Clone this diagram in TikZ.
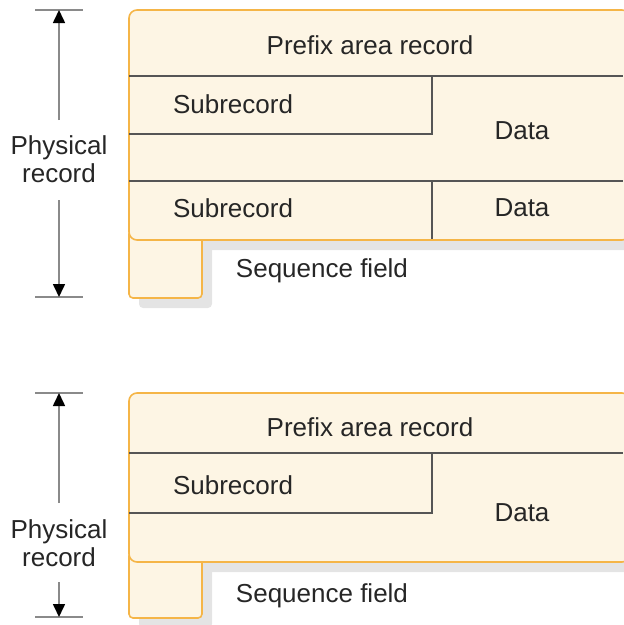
\documentclass[tikz,border=0pt]{standalone}
\usepackage{fontspec}
\setmainfont{Liberation Sans}
\usetikzlibrary{arrows.meta}
\definecolor{boxfill}{HTML}{FDF5E4}
\definecolor{boxedge}{HTML}{F5B547}
\definecolor{inner}{HTML}{555555}
\definecolor{shadowgray}{HTML}{E4E4E4}
\definecolor{dimline}{HTML}{8A8A8A}
\tikzset{
  recbox/.style={fill=boxfill, draw=boxedge, line width=1.6pt, rounded corners=8pt},
  seqbox/.style={fill=boxfill, draw=boxedge, line width=1.6pt, rounded corners=4pt},
  shadowbox/.style={fill=shadowgray, draw=none, rounded corners=8pt},
  seqshadow/.style={fill=shadowgray, draw=none, rounded corners=4pt},
  divider/.style={draw=inner, line width=1.5pt},
  lbl/.style={font=\fontsize{26}{28.5}\selectfont, text=black!85, inner sep=0pt},
  dimarrow/.style={draw=dimline, line width=1.6pt, -{Triangle[length=13pt,width=12pt,black]}},
  dimtick/.style={draw=dimline, line width=1.6pt},
}
\begin{document}
\begin{tikzpicture}[x=1pt,y=-1pt]
\useasboundingbox (0,0) rectangle (624,625);

% ===== Top diagram =====
\path[shadowbox] (139,20) rectangle (640,250);
\path[seqshadow] (139,240) rectangle (212,308);
\path[seqbox] (129,230) rectangle (202,298);
\path[recbox] (129,10) rectangle (630,240);
\draw[divider] (129,76) -- (623,76);
\draw[divider] (129,134) -- (432,134) -- (432,76);
\draw[divider] (129,181) -- (623,181);
\draw[divider] (432,181) -- (432,239);
\node[lbl] (pa1) at (370,45) {Prefix area record};
\node[lbl] (sr1) at (233,104) {Subrecord};
\node[lbl] (da1) at (522,131) {Data};
\node[lbl] (sr2) at (233,208) {Subrecord};
\node[lbl] (da2) at (522,208) {Data};
\node[lbl] (sf1) at (322,271) {Sequence field};
\coordinate (t1a) at (35,10);  \coordinate (t1b) at (83,10);
\coordinate (b1a) at (35,297); \coordinate (b1b) at (83,297);
\coordinate (top1) at (59,10); \coordinate (bot1) at (59,297);
\coordinate (s1a) at (59,120); \coordinate (s1b) at (59,200);
\node[lbl, align=center] (pr1) at (59,159) {Physical\\record};
\draw[dimtick] (t1a) -- (t1b);
\draw[dimtick] (b1a) -- (b1b);
\draw[dimarrow] (s1a) -- (top1);
\draw[dimarrow] (s1b) -- (bot1);

% ===== Bottom diagram =====
\path[shadowbox] (139,403) rectangle (640,572);
\path[seqshadow] (139,562) rectangle (212,628);
\path[seqbox] (129,552) rectangle (202,618);
\path[recbox] (129,393) rectangle (630,562);
\draw[divider] (129,453) -- (623,453);
\draw[divider] (129,513) -- (432,513) -- (432,453);
\node[lbl] (pa2) at (370,427) {Prefix area record};
\node[lbl] (sr3) at (233,485) {Subrecord};
\node[lbl] (da3) at (522,513) {Data};
\node[lbl] (sf2) at (322,596) {Sequence field};
\coordinate (t2a) at (35,393);  \coordinate (t2b) at (83,393);
\coordinate (b2a) at (35,617); \coordinate (b2b) at (83,617);
\coordinate (top2) at (59,393); \coordinate (bot2) at (59,617);
\coordinate (s2a) at (59,503); \coordinate (s2b) at (59,582);
\node[lbl, align=center] (pr2) at (59,543) {Physical\\record};
\draw[dimtick] (t2a) -- (t2b);
\draw[dimtick] (b2a) -- (b2b);
\draw[dimarrow] (s2a) -- (top2);
\draw[dimarrow] (s2b) -- (bot2);
\end{tikzpicture}
\end{document}
